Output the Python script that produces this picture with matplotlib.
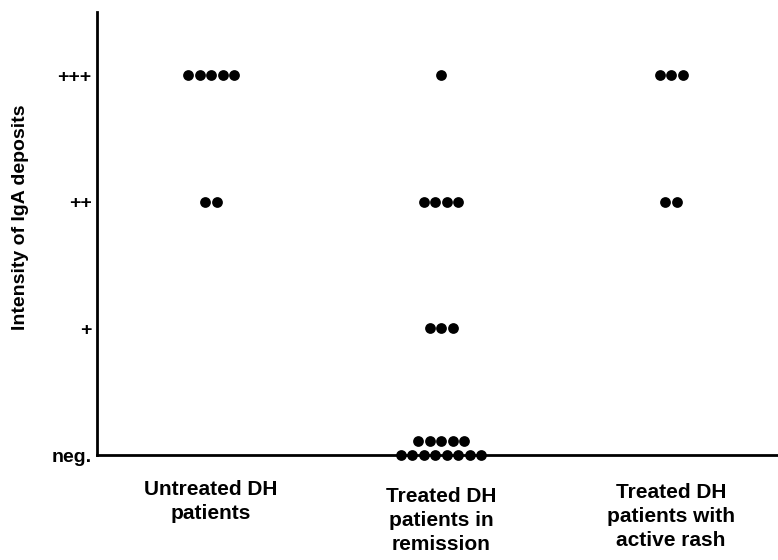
import matplotlib.pyplot as plt
import matplotlib.transforms as mtransforms
import numpy as np

plt.rcParams['font.family'] = ['Liberation Sans', 'DejaVu Sans']
plt.rcParams['font.weight'] = 'bold'

groups = ['Untreated DH\npatients', 'Treated DH\npatients in\nremission',
          'Treated DH\npatients with\nactive rash']
levels = ['neg.', '+', '++', '+++']
# number of patients at each level (neg., +, ++, +++)
counts = [
    [0, 0, 2, 5],
    [13, 3, 4, 1],
    [0, 0, 2, 3],
]

fig = plt.figure(figsize=(7.78, 5.6), dpi=100)
ax = fig.add_axes([0.1247, 0.1875, 0.8753, 0.7911])

dx = 0.05    # horizontal gap between dots
row_max = 8  # dots per row before stacking

for gi, row in enumerate(counts):
    xc = gi + 1
    for li, n in enumerate(row):
        rows = 0
        while n > 0:
            m = min(n, row_max)
            xs = xc + (np.arange(m) - (m - 1) / 2) * dx
            ys = np.full(m, li + rows * 0.11)
            ax.scatter(xs, ys, s=60, c='black', clip_on=False, zorder=3,
                       linewidths=0)
            n -= m
            rows += 1

ax.set_xlim(0.504, 3.465)
ax.set_ylim(0, 3.5)
ax.spines['top'].set_visible(False)
ax.spines['right'].set_visible(False)
ax.spines['left'].set_linewidth(2)
ax.spines['bottom'].set_linewidth(2)

ax.set_xticks([1, 2, 3])
ax.set_xticklabels(groups, fontsize=15, fontweight='bold', linespacing=1.35)
ax.set_yticks(range(len(levels)))
ax.set_yticklabels(levels, fontsize=14, fontweight='bold')
ax.tick_params(axis='x', length=0, pad=18)
ax.tick_params(axis='y', length=0, pad=4)
ax.set_ylabel('Intensity of IgA deposits', fontsize=14, fontweight='bold')
ax.yaxis.set_label_coords(-0.1, 0.537)

# the later labels sit a little lower in the original
for lab, off in zip(ax.get_xticklabels(), [0, -7, -3]):
    lab.set_transform(lab.get_transform() +
                      mtransforms.ScaledTranslation(0, off / 100, fig.dpi_scale_trans))

fig.savefig('out.png', dpi=100)
